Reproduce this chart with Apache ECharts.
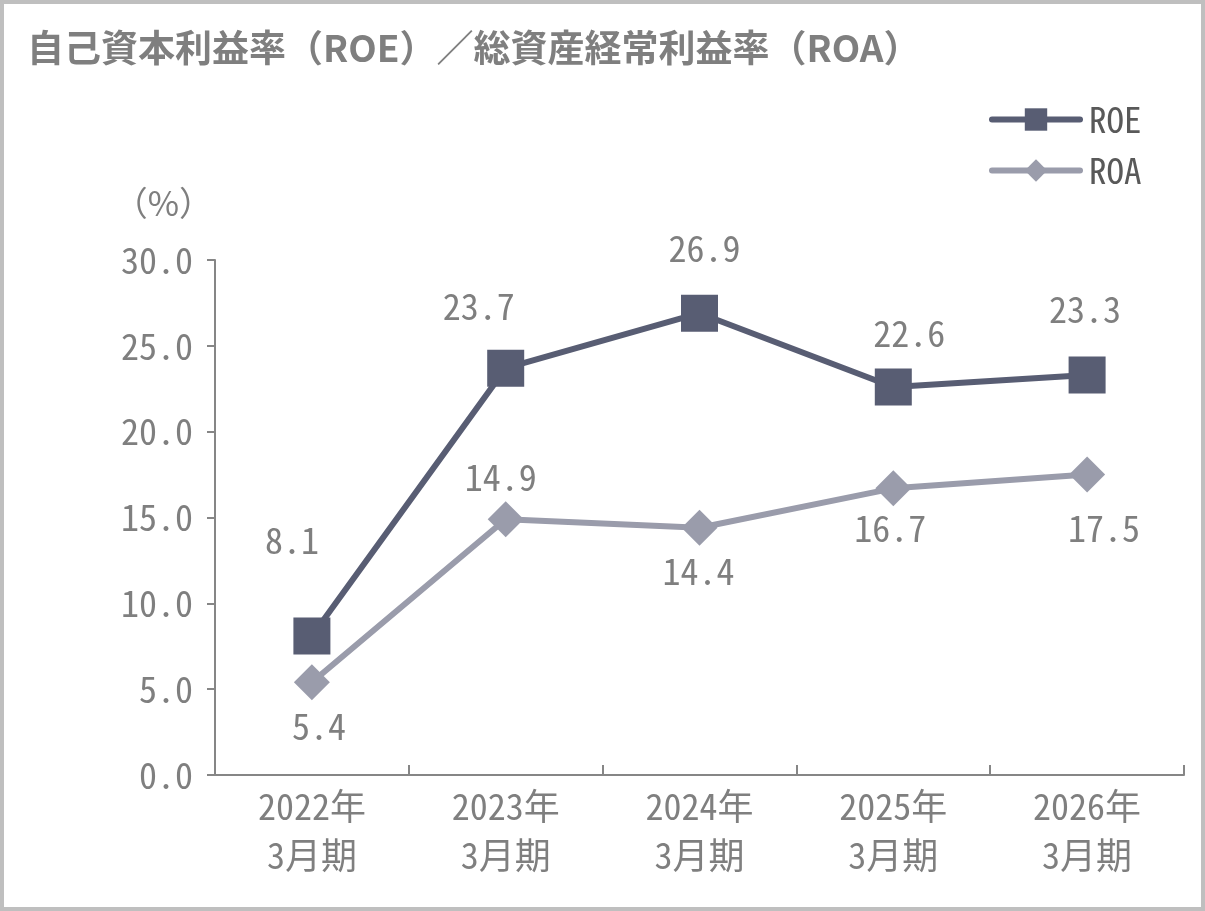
<!DOCTYPE html>
<html><head><meta charset="utf-8">
<script src="https://cdn.jsdelivr.net/npm/echarts@6/dist/echarts.min.js"></script>
<style>
html,body{margin:0;padding:0;background:#fff;}
#c{width:1205px;height:911px;box-sizing:border-box;border:4px solid #bfbfbf;}
</style></head>
<body><div id="c"></div>
<script>
const categories = ['2022年\n3月期','2023年\n3月期','2024年\n3月期','2025年\n3月期','2026年\n3月期'];
const roe = [8.1, 23.7, 26.9, 22.6, 23.3];
const roa = [5.4, 14.9, 14.4, 16.7, 17.5];
const yTicks = [0, 5, 10, 15, 20, 25, 30];

const numFont = "'Noto Sans Mono CJK JP','Liberation Mono',monospace";
const cjkFont = "'Noto Sans CJK JP',sans-serif";
const txt = '#7f7f7f';

// label placement (style only)
const roeLabelOffsets = [[-20,-96],[-27,-62],[5,-65],[16,-54],[-2,-66]];
const roaLabelOffsets = [[7,44],[-5,-42],[-1,44],[-3,40],[17,54]];

const chart = echarts.init(document.getElementById('c'), null, {renderer:'canvas'});
function mkData(vals, offs){
  return vals.map((v,i)=>({value:v, label:{offset:offs[i]}}));
}
chart.setOption({
  animation:false,
  title:{
    text:'自己資本利益率（ROE）／総資産経常利益率（ROA）',
    left:18, top:20,
    textStyle:{fontFamily:cjkFont, fontWeight:'bold', fontSize:37, color:txt}
  },
  legend:{
    left:980, top:93, orient:'vertical', itemGap:16,
    itemWidth:88, itemHeight:28,
    lineStyle:{width:6, cap:'round'},
    textStyle:{fontFamily:numFont, fontSize:35, color:'#595959', padding:[0,0,0,4]},
    data:['ROE','ROA']
  },
  grid:{left:211, right:17, top:256, bottom:132, containLabel:false},
  xAxis:{
    type:'category', data:categories, boundaryGap:true,
    axisLine:{lineStyle:{color:'#868686', width:2}},
    axisTick:{show:true, inside:true, length:10, lineStyle:{color:'#868686', width:2}},
    axisLabel:{fontFamily:numFont, fontSize:36, color:txt, lineHeight:49, margin:7}
  },
  yAxis:{
    type:'value', min:0, max:30, interval:5,
    name:'（%）', nameLocation:'end', nameGap:40,
    nameTextStyle:{fontFamily:cjkFont, fontSize:34, color:txt, align:'right', padding:[0,2,0,0]},
    axisLine:{show:true, lineStyle:{color:'#868686', width:2}},
    axisTick:{show:true, length:8, lineStyle:{color:'#868686', width:2}},
    splitLine:{show:false},
    axisLabel:{fontFamily:numFont, fontSize:36, color:txt, margin:22,
      formatter:v=> yTicks.includes(v) ? v.toFixed(1) : ''}
  },
  series:[
    {name:'ROE', type:'line', data:mkData(roe, roeLabelOffsets),
     symbol:'rect', symbolSize:37,
     lineStyle:{color:'#585d73', width:6}, itemStyle:{color:'#585d73'},
     label:{show:true, position:'inside', fontFamily:numFont, fontSize:36, color:txt, formatter:p=>p.value.toFixed(1)}},
    {name:'ROA', type:'line', data:mkData(roa, roaLabelOffsets),
     symbol:'diamond', symbolSize:36,
     lineStyle:{color:'#9a9cab', width:6}, itemStyle:{color:'#9a9cab'},
     label:{show:true, position:'inside', fontFamily:numFont, fontSize:36, color:txt, formatter:p=>p.value.toFixed(1)}}
  ]
});
</script></body></html>
